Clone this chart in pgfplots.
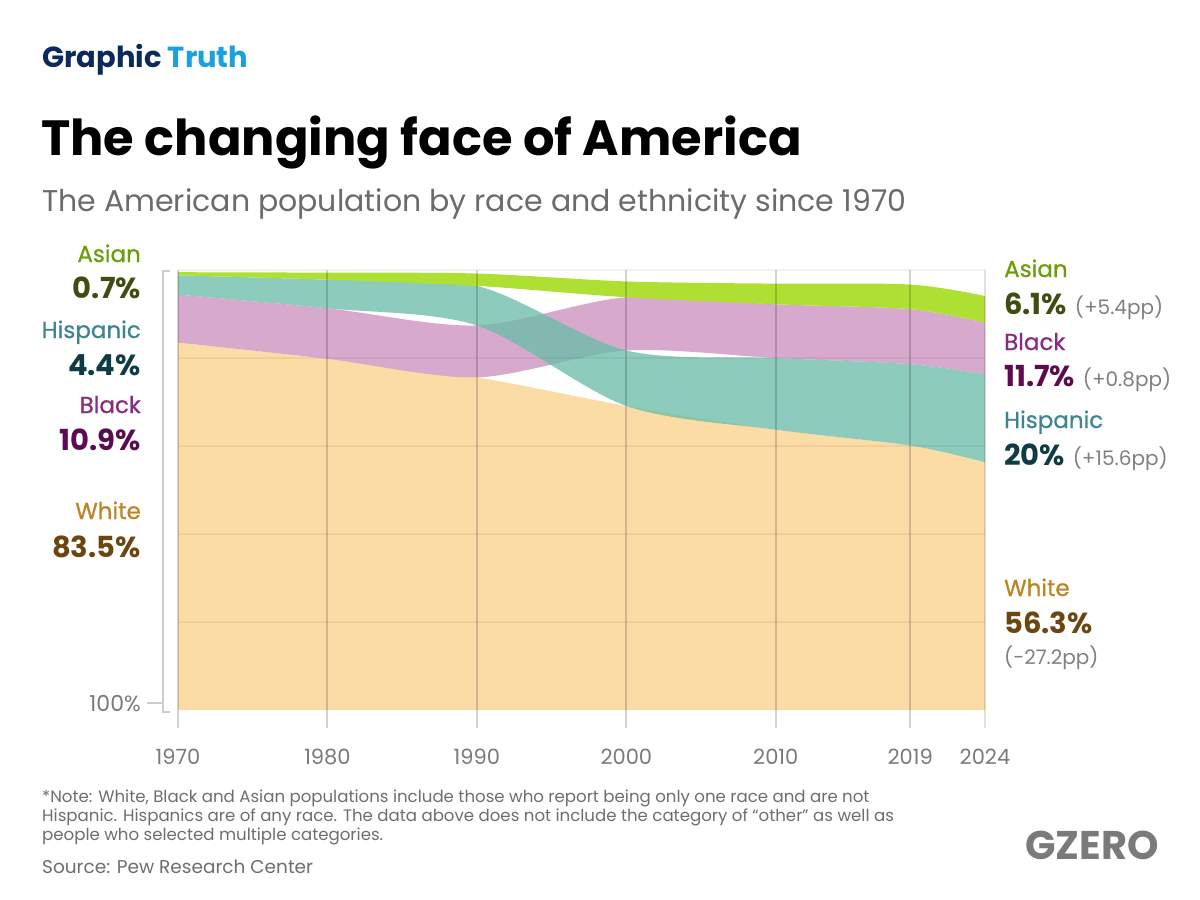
\documentclass[border=0pt]{standalone}
\usepackage{pgfplots}
\pgfplotsset{compat=1.18}
\usepackage{pgfplotstable}
\usepgfplotslibrary{fillbetween}
\usepackage{fontspec}
\setmainfont{Poppins}
\newfontfamily\popmed[FakeBold=0.7]{Poppins}

\definecolor{navy}{HTML}{0B2A5B}
\definecolor{sky}{HTML}{1AA0DC}
\definecolor{subgray}{HTML}{6B6B6B}
\definecolor{notegray}{HTML}{6E6E6E}
\definecolor{tickgray}{HTML}{7A7A7A}
\definecolor{peach}{HTML}{FCDCA5}
\definecolor{pinkb}{HTML}{D6A9CD}
\definecolor{tealb}{HTML}{6ABDA7}
\definecolor{lime}{HTML}{AEE033}
\definecolor{asianN}{HTML}{6B9E0B}
\definecolor{asianV}{HTML}{3F4D12}
\definecolor{hispN}{HTML}{3F8591}
\definecolor{hispV}{HTML}{0E3B44}
\definecolor{blackN}{HTML}{8B2A82}
\definecolor{blackV}{HTML}{5C0B52}
\definecolor{whiteN}{HTML}{BC8524}
\definecolor{whiteV}{HTML}{6B4610}
\definecolor{ppgray}{HTML}{808080}

% cumulative band boundaries (percent, stacked by rank each year)
\pgfplotstableread{
year lo hi
1970 0 83.5
1980 0 79.8
1990 0 75.6
2000 0 69.1
2010 0 63.7
2019 0 60.1
2024 0 56.3
}\tabW
\pgfplotstableread{
year lo hi
1970 83.5 94.4
1980 79.8 91.3
1990 75.6 87.4
2000 81.7 93.8
2010 80.0 92.2
2019 78.6 91.1
2024 76.3 88.0
}\tabB
\pgfplotstableread{
year lo hi
1970 94.4 98.8
1980 91.3 97.8
1990 87.4 96.4
2000 69.1 81.7
2010 63.7 80.0
2019 60.1 78.6
2024 56.3 76.3
}\tabH
\pgfplotstableread{
year lo hi
1970 98.8 99.5
1980 97.8 99.4
1990 96.4 99.2
2000 93.8 97.4
2010 92.2 96.9
2019 91.1 96.7
2024 88.0 94.1
}\tabA

\newcommand{\nm}[1]{{\popmed\fontsize{23}{26}\selectfont #1}}
\newcommand{\vl}[1]{{\fontsize{29}{32}\selectfont\bfseries #1}}
\newcommand{\pp}[1]{{\fontsize{20}{22}\selectfont\color{ppgray}#1}}
\newcommand{\nt}[1]{{\fontsize{16.6}{18}\selectfont\color{notegray}#1}}

\begin{document}
\begin{tikzpicture}[x=1pt,y=1pt]
\fill[white] (0,0) rectangle (1200,-900);

% header
\node[anchor=base west, inner sep=0] at (42,-67) {\fontsize{29}{31}\selectfont\bfseries\color{navy}Graphic \color{sky}Truth};
\node[anchor=base west, inner sep=0] at (41,-155) {\fontsize{49.5}{54}\selectfont\bfseries The changing face of America};
\node[anchor=base west, inner sep=0] at (42,-211) {\fontsize{30}{32}\selectfont\color{subgray}The American population by race and ethnicity since 1970};

\begin{axis}[
  at={(178pt,-727.6pt)}, anchor=south west,
  scale only axis, width=807pt, height=457.6pt,
  xmin=1970, xmax=2024, ymin=-4, ymax=100,
  axis line style={draw=none}, tick style={draw=none},
  ytick=\empty,
  xtick={1970,1980,1990,2000,2010,2019,2024},
  xticklabels={1970,1980,1990,2000,2010,2019,2024},
  xticklabel style={anchor=base, yshift=-37pt, font=\fontsize{21}{22}\selectfont, text=tickgray},
  clip=false,
  fill between/on layer=main,
]
% White
\addplot[name path=wt, draw=none, smooth] table[x=year,y=hi]{\tabW};
\addplot[name path=wb, draw=none] table[x=year,y=lo]{\tabW};
\addplot[fill=peach, draw=none] fill between[of=wt and wb];
% Black
\addplot[name path=bt, draw=none, smooth] table[x=year,y=hi]{\tabB};
\addplot[name path=bb, draw=none, smooth] table[x=year,y=lo]{\tabB};
\addplot[fill=pinkb, draw=none] fill between[of=bt and bb];
% Hispanic
\addplot[name path=ht, draw=none, smooth] table[x=year,y=hi]{\tabH};
\addplot[name path=hb, draw=none, smooth] table[x=year,y=lo]{\tabH};
\addplot[fill=tealb, fill opacity=0.76, draw=none] fill between[of=ht and hb];
% Asian
\addplot[name path=as, draw=none, smooth] table[x=year,y=hi]{\tabA};
\addplot[name path=ab, draw=none, smooth] table[x=year,y=lo]{\tabA};
\addplot[fill=lime, draw=none] fill between[of=as and ab];

% horizontal grid (faint)
\draw[black, opacity=0.05, line width=2pt] (axis cs:1970,100) -- (axis cs:2024,100);
\draw[black, opacity=0.05, line width=2pt] (axis cs:1970,80) -- (axis cs:2024,80);
\draw[black, opacity=0.05, line width=2pt] (axis cs:1970,60) -- (axis cs:2024,60);
\draw[black, opacity=0.05, line width=2pt] (axis cs:1970,40) -- (axis cs:2024,40);
\draw[black, opacity=0.05, line width=2pt] (axis cs:1970,20) -- (axis cs:2024,20);
% vertical grid
\draw[black, opacity=0.17, line width=2pt] (axis cs:1970,-4) -- (axis cs:1970,100);
\draw[black, opacity=0.17, line width=2pt] (axis cs:1980,-4) -- (axis cs:1980,100);
\draw[black, opacity=0.17, line width=2pt] (axis cs:1990,-4) -- (axis cs:1990,100);
\draw[black, opacity=0.17, line width=2pt] (axis cs:2000,-4) -- (axis cs:2000,100);
\draw[black, opacity=0.17, line width=2pt] (axis cs:2010,-4) -- (axis cs:2010,100);
\draw[black, opacity=0.17, line width=2pt] (axis cs:2019,-4) -- (axis cs:2019,100);
\draw[black, opacity=0.12, line width=2pt] (axis cs:2024,-4) -- (axis cs:2024,100);
\end{axis}

% left bracket and 100% label
\draw[black!20, line width=2.2pt] (170,-271) -- (163,-271) -- (163,-712) -- (170,-712);
\draw[black!20, line width=2pt] (147,-703) -- (163,-703);
\node[anchor=base east, inner sep=0] at (141,-711) {\fontsize{22}{24}\selectfont\color{tickgray}100\%};

% left labels
\node[anchor=base east, inner sep=0] at (141,-262) {\nm{\color{asianN}Asian}};
\node[anchor=base east, inner sep=0] at (141,-298) {\vl{\color{asianV}0.7\%}};
\node[anchor=base east, inner sep=0] at (141,-338) {\nm{\color{hispN}Hispanic}};
\node[anchor=base east, inner sep=0] at (141,-375) {\vl{\color{hispV}4.4\%}};
\node[anchor=base east, inner sep=0] at (141,-413) {\nm{\color{blackN}Black}};
\node[anchor=base east, inner sep=0] at (141,-450) {\vl{\color{blackV}10.9\%}};
\node[anchor=base east, inner sep=0] at (141,-519) {\nm{\color{whiteN}White}};
\node[anchor=base east, inner sep=0] at (141,-557) {\vl{\color{whiteV}83.5\%}};

% right labels
\node[anchor=base west, inner sep=0] at (1004,-277) {\nm{\color{asianN}Asian}};
\node[anchor=base west, inner sep=0] at (1004,-314) {\vl{\color{asianV}6.1\%}\hspace{8pt}\pp{(+5.4pp)}};
\node[anchor=base west, inner sep=0] at (1004,-350) {\nm{\color{blackN}Black}};
\node[anchor=base west, inner sep=0] at (1004,-386) {\vl{\color{blackV}11.7\%}\hspace{8pt}\pp{(+0.8pp)}};
\node[anchor=base west, inner sep=0] at (1004,-428) {\nm{\color{hispN}Hispanic}};
\node[anchor=base west, inner sep=0] at (1004,-465) {\vl{\color{hispV}20\%}\hspace{8pt}\pp{(+15.6pp)}};
\node[anchor=base west, inner sep=0] at (1004,-596) {\nm{\color{whiteN}White}};
\node[anchor=base west, inner sep=0] at (1004,-633) {\vl{\color{whiteV}56.3\%}};
\node[anchor=base west, inner sep=0] at (1004,-664) {\pp{(-27.2pp)}};

% footnote
\node[anchor=base west, inner sep=0] at (42,-802) {\nt{*Note: White, Black and Asian populations include those who report being only one race and are not}};
\node[anchor=base west, inner sep=0] at (42,-821) {\nt{Hispanic. Hispanics are of any race. The data above does not include the category of “other” as well as}};
\node[anchor=base west, inner sep=0] at (42,-840) {\nt{people who selected multiple categories.}};
\node[anchor=base west, inner sep=0] at (42,-873) {\fontsize{18.5}{20}\selectfont\color{notegray}Source: Pew Research Center};
\node[anchor=center, inner sep=0] at (1092,-845) {\fontsize{40}{42}\selectfont\bfseries\color{tickgray}GZERO};
\end{tikzpicture}
\end{document}
